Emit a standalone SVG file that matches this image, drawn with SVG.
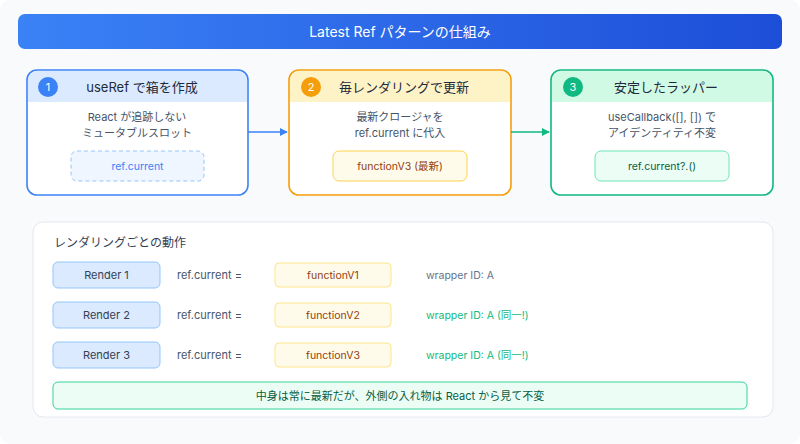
<svg xmlns="http://www.w3.org/2000/svg" width="800" height="444" viewBox="0 0 800 444">
<defs>
<linearGradient id="tg" x1="0" y1="0" x2="1" y2="0">
<stop offset="0" stop-color="#3b82f6"/>
<stop offset="1" stop-color="#1d4ed8"/>
</linearGradient>
<marker id="ab" viewBox="0 0 10 10" refX="9" refY="5" markerWidth="8" markerHeight="8" orient="auto" markerUnits="userSpaceOnUse"><path d="M0,0 L10,5 L0,10 z" fill="#3b82f6"/></marker>
<marker id="ag" viewBox="0 0 10 10" refX="9" refY="5" markerWidth="8" markerHeight="8" orient="auto" markerUnits="userSpaceOnUse"><path d="M0,0 L10,5 L0,10 z" fill="#10b981"/></marker>
<style>
text{font-family:Inter,"Noto Sans CJK JP",sans-serif;}
.hd{font-size:13px;fill:#1e293b;text-anchor:middle;}
.bd{font-size:11px;fill:#475569;text-anchor:middle;}
.num{font-size:11px;fill:#fff;text-anchor:middle;}
.sm{font-size:10.5px;text-anchor:middle;}
.card{fill:#fff;stroke-width:1.6;}
.rb{fill:#dbeafe;stroke:#93c5fd;stroke-width:1;}
.fb{fill:#fffbeb;stroke:#fde68a;stroke-width:1;}
.rt{font-size:11px;fill:#334155;text-anchor:middle;}
.ft{font-size:10.5px;fill:#92400e;text-anchor:middle;}
.eq{font-size:11px;fill:#475569;}
</style>
</defs>
<rect x="0" y="0" width="800" height="444" rx="10" fill="#f8fafc"/>
<g id="title">
<rect x="18" y="14" width="764" height="35" rx="7" fill="url(#tg)"/>
<text x="400" y="36.5" font-size="14" fill="#fff" text-anchor="middle">Latest Ref パターンの仕組み</text>
</g>
<g id="card1">
<rect class="card" x="27" y="70" width="221" height="125" rx="10" stroke="#3b82f6"/>
<path d="M28,102 V80 a9,9 0 0 1 9,-9 H238 a9,9 0 0 1 9,9 V102 z" fill="#dbeafe"/>
<circle cx="48" cy="87" r="10" fill="#3b82f6"/>
<text class="num" x="48" y="91">1</text>
<text class="hd" x="142" y="91.5">useRef で箱を作成</text>
<text class="bd" x="137" y="121">React が追跡しない</text>
<text class="bd" x="137" y="137">ミュータブルスロット</text>
<rect x="71" y="151" width="133" height="30" rx="6" fill="#eff6ff" stroke="#93c5fd" stroke-dasharray="4 3"/>
<text class="sm" x="137.5" y="170" fill="#3b82f6">ref.current</text>
</g>
<g id="card2">
<rect class="card" x="289" y="70" width="222" height="125" rx="10" stroke="#f59e0b"/>
<path d="M290,102 V80 a9,9 0 0 1 9,-9 H501 a9,9 0 0 1 9,9 V102 z" fill="#fef3c7"/>
<circle cx="311" cy="87" r="10" fill="#f59e0b"/>
<text class="num" x="311" y="91">2</text>
<text class="hd" x="404" y="91.5">毎レンダリングで更新</text>
<text class="bd" x="400" y="121">最新クロージャを</text>
<text class="bd" x="400" y="137">ref.current に代入</text>
<rect x="333" y="151" width="134" height="30" rx="6" fill="#fffbeb" stroke="#fcd34d"/>
<text class="ft" x="400" y="170">functionV3 (最新)</text>
</g>
<g id="card3">
<rect class="card" x="551" y="70" width="222" height="125" rx="10" stroke="#10b981"/>
<path d="M552,102 V80 a9,9 0 0 1 9,-9 H763 a9,9 0 0 1 9,9 V102 z" fill="#d1fae5"/>
<circle cx="573" cy="87" r="10" fill="#10b981"/>
<text class="num" x="573" y="91">3</text>
<text class="hd" x="666" y="91.5">安定したラッパー</text>
<text class="bd" x="662" y="121">useCallback([], []) で</text>
<text class="bd" x="662" y="137">アイデンティティ不変</text>
<rect x="595" y="151" width="134" height="30" rx="6" fill="#ecfdf5" stroke="#6ee7b7"/>
<text class="sm" x="662" y="170" fill="#065f46">ref.current?.()</text>
</g>
<g id="connectors">
<line x1="248" y1="132" x2="287" y2="132" stroke="#3b82f6" stroke-width="1.6" marker-end="url(#ab)"/>
<line x1="511" y1="132" x2="549" y2="132" stroke="#10b981" stroke-width="1.6" marker-end="url(#ag)"/>
</g>
<g id="panel">
<rect x="33" y="222" width="740" height="195" rx="10" fill="#fff" stroke="#e2e8f0"/>
<text x="54" y="247" font-size="12" fill="#334155">レンダリングごとの動作</text>
</g>
<g id="row1">
<rect class="rb" x="53" y="262" width="107" height="26" rx="5"/>
<text class="rt" x="106.5" y="279">Render 1</text>
<text class="eq" x="177" y="279">ref.current =</text>
<rect class="fb" x="275" y="263" width="116" height="24" rx="4"/>
<text class="ft" x="333" y="279">functionV1</text>
<text x="426" y="279" font-size="10.5" fill="#64748b">wrapper ID: A</text>
</g>
<g id="row2">
<rect class="rb" x="53" y="302" width="107" height="26" rx="5"/>
<text class="rt" x="106.5" y="319">Render 2</text>
<text class="eq" x="177" y="319">ref.current =</text>
<rect class="fb" x="275" y="303" width="116" height="24" rx="4"/>
<text class="ft" x="333" y="319">functionV2</text>
<text x="426" y="319" font-size="10.5" fill="#10b981">wrapper ID: A (同一!)</text>
</g>
<g id="row3">
<rect class="rb" x="53" y="342" width="107" height="26" rx="5"/>
<text class="rt" x="106.5" y="359">Render 3</text>
<text class="eq" x="177" y="359">ref.current =</text>
<rect class="fb" x="275" y="343" width="116" height="24" rx="4"/>
<text class="ft" x="333" y="359">functionV3</text>
<text x="426" y="359" font-size="10.5" fill="#10b981">wrapper ID: A (同一!)</text>
</g>
<g id="note">
<rect x="53" y="382" width="694" height="27" rx="5" fill="#ecfdf5" stroke="#34d399"/>
<text x="400" y="399.5" font-size="11" fill="#065f46" text-anchor="middle">中身は常に最新だが、外側の入れ物は React から見て不変</text>
</g>
</svg>
